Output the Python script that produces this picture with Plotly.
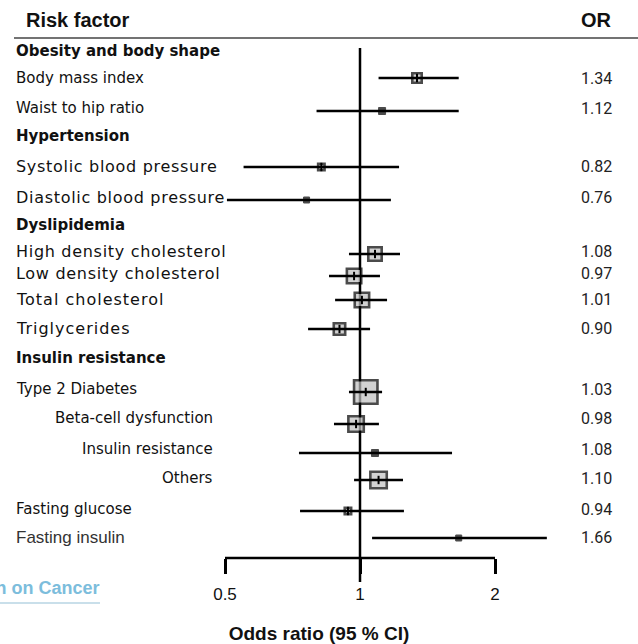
import plotly.graph_objects as go

# ---------------- data ----------------
sections = ["Obesity and body shape", "Hypertension", "Dyslipidemia", "Insulin resistance"]

factors = ["Body mass index", "Waist to hip ratio",
           "Systolic blood pressure", "Diastolic blood pressure",
           "High density cholesterol", "Low density cholesterol", "Total cholesterol", "Triglycerides",
           "Type 2 Diabetes", "Beta-cell dysfunction", "Insulin resistance", "Others",
           "Fasting glucose", "Fasting insulin"]
odds_ratio = [1.34, 1.12, 0.82, 0.76, 1.08, 0.97, 1.01, 0.90, 1.03, 0.98, 1.08, 1.10, 0.94, 1.66]
ci_low = [1.10, 0.80, 0.55, 0.505, 0.945, 0.853, 0.88, 0.766, 0.945, 0.875, 0.731, 0.97, 0.735, 1.064]
ci_high = [1.66, 1.66, 1.222, 1.172, 1.228, 1.108, 1.149, 1.053, 1.12, 1.102, 1.604, 1.247, 1.253, 2.61]
or_text = ["1.34", "1.12", "0.82", "0.76", "1.08", "0.97", "1.01", "0.90",
           "1.03", "0.98", "1.08", "1.10", "0.94", "1.66"]

tick_vals = [0.5, 1, 2]
tick_text = ["0.5", "1", "2"]

# ---------------- layout (pixel positions / sizes) ----------------
W, H = 638, 644
section_y = [51, 136, 225, 358]
label_y = [78, 108, 166, 197, 251, 273, 299, 328, 389, 418, 449, 478, 509, 537]
mark_y = [78, 111, 167, 200, 254, 276, 300, 329, 392, 424, 453, 480, 511, 538]
label_align = ["l"] * 9 + ["r", "r", "r"] + ["l", "l"]
label_size = [15, 15, 16, 16, 16, 16, 16, 16, 15, 15, 15, 15, 15, 15]
label_spacing = [0, 0, 0.7, 0.7, 0.7, 0.7, 1.0, 1.0, 0, 0, 0, 0, 0, 0]  # px letter spacing
box_size = [12, 8, 9, 7, 16, 17, 17, 14, 26, 18, 8, 19, 9, 7]   # outer px
axis_y = 558

LOG_LO = -0.80275
LOG_HI = 0.6199

fig = go.Figure()

# boxes
gray_idx = [i for i, s in enumerate(box_size) if s >= 9]
black_idx = [i for i, s in enumerate(box_size) if s < 9]
fig.add_trace(go.Scatter(
    x=[odds_ratio[i] for i in gray_idx], y=[mark_y[i] for i in gray_idx],
    mode="markers", hoverinfo="skip", showlegend=False,
    marker=dict(symbol="square", size=[box_size[i] - 2.6 for i in gray_idx],
                color="#c0c0c0", line=dict(color="black", width=2.6))))
fig.add_trace(go.Scatter(
    x=[odds_ratio[i] for i in black_idx], y=[mark_y[i] for i in black_idx],
    mode="markers", hoverinfo="skip", showlegend=False,
    marker=dict(symbol="square", size=[box_size[i] - 1 for i in black_idx],
                color="black", line=dict(color="black", width=1))))

# confidence intervals
cx, cy = [], []
for lo, hi, y in zip(ci_low, ci_high, mark_y):
    cx += [lo, hi, None]
    cy += [y, y, None]
fig.add_trace(go.Scatter(x=cx, y=cy, mode="lines", hoverinfo="skip", showlegend=False,
                         line=dict(color="black", width=2.5)))

# point estimate ticks inside boxes
fig.add_trace(go.Scatter(
    x=[odds_ratio[i] for i in gray_idx], y=[mark_y[i] for i in gray_idx],
    mode="markers", hoverinfo="skip", showlegend=False,
    marker=dict(symbol="line-ns", size=6, line=dict(color="black", width=2))))

# reference line at OR = 1 and the axis bracket
fig.add_shape(type="line", xref="x", yref="y", x0=1, x1=1, y0=48, y1=582,
              line=dict(color="black", width=2.5), layer="below")
fig.add_shape(type="line", xref="x", yref="y", x0=min(tick_vals), x1=max(tick_vals),
              y0=axis_y, y1=axis_y, line=dict(color="black", width=2.5))
# header rule
fig.add_shape(type="line", xref="paper", yref="y", x0=14 / W, x1=1, y0=38, y1=38,
              line=dict(color="#444444", width=1.5))

ann = []
def add_text(text, xpx, y, anchor="left", size=15, family="DejaVu Sans", color="#111111",
             bold=False, spacing=0):
    if spacing:
        text = f'<span style="letter-spacing:{spacing}px">{text}</span>'
    if bold:
        text = f"<b>{text}</b>"
    ann.append(dict(x=xpx / W, xref="paper", y=y, yref="y", text=text,
                    showarrow=False, xanchor=anchor, yanchor="middle",
                    font=dict(size=size, family=family, color=color)))

add_text("Risk factor", 24, 20, size=20, family="Liberation Sans", bold=True)
add_text("OR", 614, 20, anchor="right", size=20, family="Liberation Sans", bold=True)
for s, y in zip(sections, section_y):
    add_text(s, 14, y, bold=True)
for f, y, al, sz, sp in zip(factors, label_y, label_align, label_size, label_spacing):
    if f == "Fasting insulin":
        add_text(f, 14, y, size=17, family="Liberation Sans", color="#333333")
    elif al == "l":
        add_text(f, 14, y, size=sz, spacing=sp)
    else:
        add_text(f, 215, y, anchor="right", size=sz, spacing=sp)
for t, y in zip(or_text, label_y):
    add_text(t, 614, y, anchor="right", size=16, family="Roboto", color="#222222")

# cropped watermark text (cut at the left edge, as in the source image)
add_text("International Agency for Research on Cancer", 101, 588, anchor="right", size=18,
         family="Liberation Sans", color="#7cbddc", bold=True)
fig.add_shape(type="line", xref="paper", yref="y", x0=0, x1=100 / W, y0=603, y1=603,
              line=dict(color="#c9dfea", width=2))

fig.update_layout(
    width=W, height=H, margin=dict(l=0, r=0, t=0, b=0),
    paper_bgcolor="white", plot_bgcolor="white",
    annotations=ann,
    xaxis=dict(type="log", range=[LOG_LO, LOG_HI], anchor="free", position=(H - axis_y) / H,
               showgrid=False, zeroline=False, showline=False,
               tickvals=tick_vals, ticktext=tick_text, ticks="outside", ticklen=15,
               tickwidth=2.5, tickcolor="black", ticklabelstandoff=6,
               tickfont=dict(family="Liberation Sans", size=17, color="#111111"),
               title=dict(text="<b>Odds ratio (95 % CI)</b>", standoff=23,
                          font=dict(family="Liberation Sans", size=19, color="#111111")),
               automargin=False, fixedrange=True),
    yaxis=dict(range=[H, 0], visible=False, fixedrange=True),
)

fig.write_html("out.html", config={"displayModeBar": False},
               post_script="document.body.style.margin='0';document.body.style.overflow='hidden';")
